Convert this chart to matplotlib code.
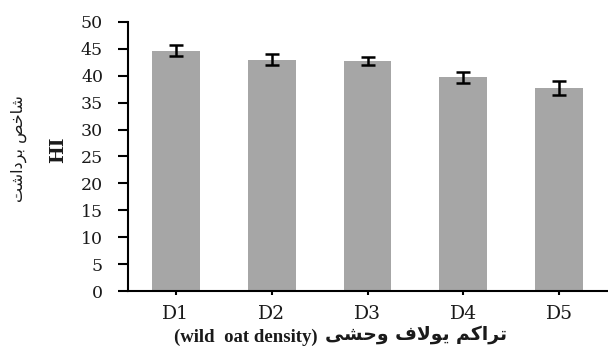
import matplotlib
matplotlib.use("Agg")
import matplotlib.pyplot as plt

categories = ["D1", "D2", "D3", "D4", "D5"]
hi_values = [44.7, 43.0, 42.7, 39.7, 37.7]
hi_errors = [1.0, 1.0, 0.75, 0.95, 1.25]
y_ticks = [0, 5, 10, 15, 20, 25, 30, 35, 40, 45, 50]

# Persian text written in presentation forms, visual (left-to-right) order
ylabel_fa = "\uFE96\uFEB7\uFE8D\uFEA9\uFEAE\uFE91 \uFEBA\uFEA7\uFE8E\uFEB7"   # شاخص برداشت
xlabel_fa = ("\uFBFD\uFEB8\uFEA3\uFEED \uFED1\uFEFB\uFEEE\uFBFE "
             "\uFEE2\uFB90\uFE8D\uFEAE\uFE97")                              # تراکم یولاف وحشی
xlabel_en = "(wild  oat density)"

fig = plt.figure(figsize=(6.08, 3.47), dpi=100)
ax = fig.add_axes([128 / 608, 1 - 291 / 347, (607 - 128) / 608, (291 - 22) / 347])

x = range(len(categories))
ax.bar(x, hi_values, width=0.5, color="#A6A6A6", zorder=2)
ax.errorbar(x, hi_values, yerr=hi_errors, fmt="none", ecolor="black",
            elinewidth=1.8, capsize=5, capthick=1.8, zorder=3)

ax.set_xlim(-0.5, len(categories) - 0.5)
ax.set_ylim(0, 50)
ax.set_yticks(y_ticks)
ax.set_xticks(list(x))
ax.set_xticklabels(categories)

for s in ["top", "right"]:
    ax.spines[s].set_visible(False)
for s in ["left", "bottom"]:
    ax.spines[s].set_linewidth(1.5)
    ax.spines[s].set_color("black")

ax.tick_params(axis="y", direction="out", length=7, width=1.5, pad=11,
               labelsize=12.5, labelcolor="#1a1a1a")
ax.tick_params(axis="x", direction="out", length=3, width=1.5, pad=7,
               labelsize=13.5, labelcolor="#1a1a1a")
for lab in ax.get_yticklabels() + ax.get_xticklabels():
    lab.set_family("DejaVu Serif")

fig.text(19 / 608, 1 - 149 / 347, ylabel_fa, rotation=90, ha="center", va="center",
         family=["DejaVu Sans"], fontsize=11.5, color="#1a1a1a")
fig.text(58 / 608, 1 - 150 / 347, "HI", rotation=90, ha="center", va="center",
         family=["DejaVu Serif"], fontweight="bold", fontsize=13.5, color="#1a1a1a")

fig.text(318 / 608, 1 - 342 / 347, xlabel_en, ha="right", va="baseline",
         family=["Liberation Serif"], fontweight="bold", fontsize=13.5,
         color="#1a1a1a")
fig.text(325 / 608, 1 - 340 / 347, xlabel_fa, ha="left", va="baseline",
         family=["DejaVu Sans"], fontweight="bold", fontsize=13.5,
         color="#1a1a1a")

fig.savefig("out.png", dpi=100)
